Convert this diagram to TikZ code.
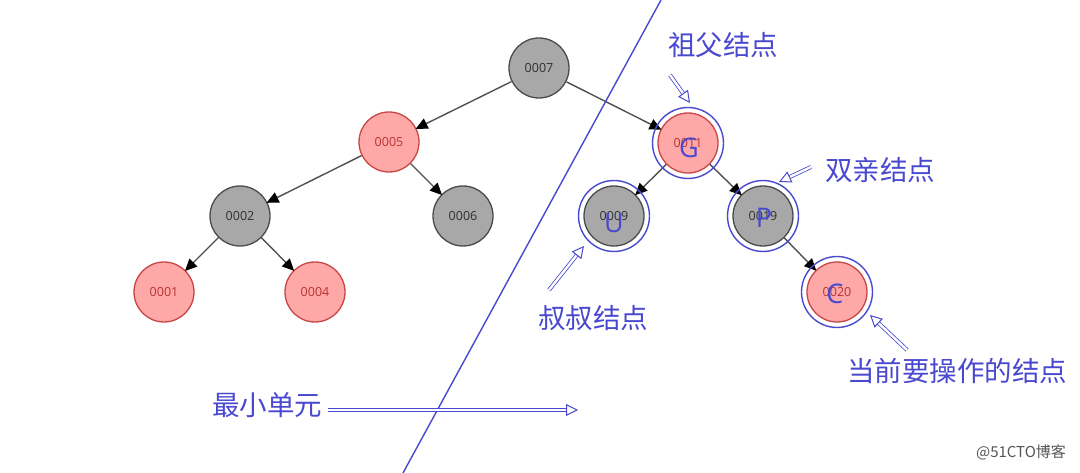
\documentclass[tikz,border=0pt]{standalone}
\usepackage{fontspec}
\setmainfont{Open Sans}
\newfontfamily\cjk{Noto Sans CJK SC}
\usetikzlibrary{arrows.meta}
\definecolor{redfill}{HTML}{FFA8A8}
\definecolor{redline}{HTML}{C84646}
\definecolor{redtext}{HTML}{B83232}
\definecolor{grayfill}{HTML}{A8A8A8}
\definecolor{grayline}{HTML}{4A4A4A}
\definecolor{graytext}{HTML}{303030}
\definecolor{edgecol}{HTML}{505050}
\definecolor{bluecol}{HTML}{4848D0}
\definecolor{markcol}{HTML}{555555}
\begin{document}
\begin{tikzpicture}[x=1pt,y=-1pt,
  treenode/.style={circle, minimum size=60pt, inner sep=0pt, line width=1.3pt, font=\fontsize{12.5}{14}\selectfont},
  rednode/.style={treenode, draw=redline, fill=redfill, text=redtext},
  graynode/.style={treenode, draw=grayline, fill=grayfill, text=graytext},
  edge/.style={draw=edgecol, line width=1.4pt, -{Triangle[length=12pt,width=11pt,color=black]}, shorten >=-1pt},
  ring/.style={draw=bluecol, line width=1.4pt},
  letter/.style={text=bluecol, font=\fontsize{27}{30}\selectfont, inner sep=0pt},
  cjklabel/.style={text=bluecol, font=\cjk\fontsize{27.5}{31}\selectfont, inner sep=0pt},
  callout/.style={draw=bluecol, line width=0.8pt, double=white, double distance=2.4pt, -{Triangle[open, length=12pt, width=12pt, line width=1pt]}},
  cutline/.style={draw=bluecol, line width=1.4pt}
]
\useasboundingbox (0,0) rectangle (1080,473);
% tree nodes
\node[graynode] (n7)  at (539,68)  {0007};
\node[rednode]  (n5)  at (389,142) {0005};
\node[graynode] (n2)  at (240,216) {0002};
\node[graynode] (n6)  at (463,216) {0006};
\node[rednode]  (n1)  at (164,292) {0001};
\node[rednode]  (n4)  at (315,292) {0004};
\node[rednode]  (n11) at (688,143) {0011};
\node[graynode] (n9)  at (614,216) {0009};
\node[graynode] (n19) at (763,216) {0019};
\node[rednode]  (n20) at (837,292) {0020};
% edges
\draw[edge] (n7) -- (n5);
\draw[edge] (n7) -- (n11);
\draw[edge] (n5) -- (n2);
\draw[edge] (n5) -- (n6);
\draw[edge] (n2) -- (n1);
\draw[edge] (n2) -- (n4);
\draw[edge] (n11) -- (n9);
\draw[edge] (n11) -- (n19);
\draw[edge] (n19) -- (n20);
% rings
\draw[ring] (n11.center) circle[radius=35.5];
\draw[ring] (n9.center)  circle[radius=35.5];
\draw[ring] (n19.center) circle[radius=35.5];
\draw[ring] (n20.center) circle[radius=35.5];
% letters
\node[letter] (lg) at (689,148) {G};
\node[letter] (lu) at (614,223) {U};
\node[letter] (lp) at (764,218) {P};
\node[letter] (lc) at (835,294) {C};
% cut line
\coordinate (d1) at (661,0);
\coordinate (d2) at (403,473);
\draw[cutline] (d1) -- (d2);
% labels
\node[cjklabel] (tg) at (723,45)  {祖父结点};
\node[cjklabel] (tp) at (880,170) {双亲结点};
\node[cjklabel] (tu) at (593,318) {叔叔结点};
\node[cjklabel] (tc) at (957,371) {当前要操作的结点};
\node[cjklabel] (tm) at (267,405) {最小单元};
% callouts
\coordinate (ag1) at (670,75);  \coordinate (ag2) at (690,103);
\coordinate (ap1) at (811,167); \coordinate (ap2) at (779,182);
\coordinate (au1) at (549,290); \coordinate (au2) at (584,246);
\coordinate (ac1) at (907,350); \coordinate (ac2) at (870,315);
\coordinate (am1) at (328,410); \coordinate (am2) at (578,410);
\draw[callout] (ag1) -- (ag2);
\draw[callout] (ap1) -- (ap2);
\draw[callout] (au1) -- (au2);
\draw[callout] (ac1) -- (ac2);
\draw[callout] (am1) -- (am2);
% watermark
\node[text=markcol, font=\cjk\fontsize{15}{17}\selectfont, inner sep=0pt] (wm) at (1021,452) {@51CTO博客};
\end{tikzpicture}
\end{document}
